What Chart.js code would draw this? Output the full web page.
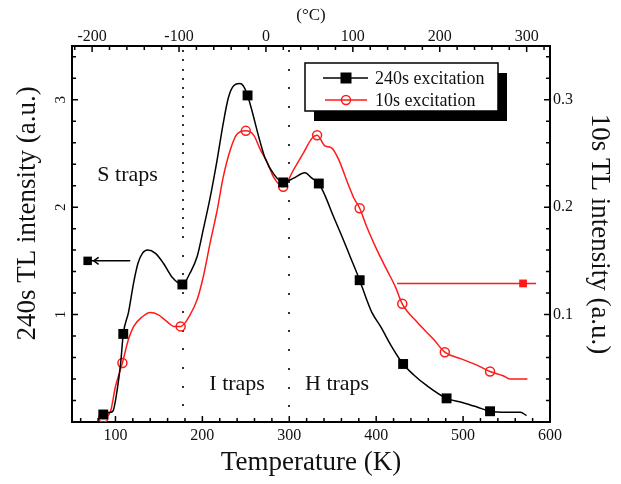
<!DOCTYPE html>
<html>
<head>
<meta charset="utf-8">
<script src="https://cdn.jsdelivr.net/npm/chart.js@4/dist/chart.umd.min.js"></script>
<style>
  html, body { margin: 0; padding: 0; background: #fff; }
  #wrap { width: 621px; height: 484px; }
</style>
</head>
<body>
<div id="wrap"><canvas id="c" width="621" height="484"></canvas></div>
<script>
// Thermoluminescence glow curves, temperature in K
const tempK_240 = [85,94,97,102,106,109,115,121,126,131,137,146,155,165,177,186,194,201,209,217,224,230,236,243,247,252,257,265,272,282,293,305,318,326,334,341,351,361,370,381,389,395,405,418,431,443,458,481,500,516,531,551,566,573];
const tl_240    = [0.07,0.09,0.10,0.30,0.55,0.82,1.02,1.30,1.48,1.57,1.60,1.57,1.48,1.35,1.28,1.39,1.54,1.79,2.09,2.44,2.78,3.02,3.13,3.15,3.13,3.04,2.90,2.65,2.46,2.31,2.23,2.27,2.32,2.27,2.22,2.11,1.91,1.72,1.54,1.32,1.14,1.02,0.89,0.70,0.54,0.44,0.34,0.22,0.18,0.14,0.10,0.09,0.09,0.06];
const markK_240 = [86,109,177,252,293,334,381,431,481,531];
const mark_240  = [0.07,0.82,1.28,3.04,2.23,2.22,1.32,0.54,0.22,0.10];

const tempK_10 = [85,94,100,108,115,121,131,140,149,160,167,175,186,194,201,209,217,224,232,240,250,259,267,275,282,293,305,316,326,332,341,349,357,366,374,381,389,401,412,422,430,447,466,479,497,516,531,546,554,574];
const tl_10    = [0.003,0.009,0.033,0.055,0.077,0.089,0.098,0.102,0.100,0.093,0.089,0.089,0.100,0.114,0.135,0.167,0.197,0.228,0.253,0.268,0.271,0.267,0.253,0.241,0.228,0.219,0.235,0.250,0.264,0.267,0.257,0.255,0.244,0.225,0.209,0.199,0.182,0.160,0.142,0.126,0.110,0.093,0.077,0.065,0.059,0.053,0.047,0.043,0.040,0.040];
const markK_10 = [86,108,175,250,293,332,381,430,479,531];
const mark_10  = [0.004,0.055,0.089,0.271,0.219,0.267,0.199,0.110,0.065,0.047];

// Axis-pointer arrows (which curve belongs to which axis)
const arrowK_240 = [64, 117];
const arrowY_240 = 1.5;
const arrowMarkK_240 = 68;
const arrowK_10 = [424, 584];
const arrowY_10 = 0.129;
const arrowMarkK_10 = 569;

// Trap region boundaries and labels
const boundaryK = [178, 300];
const boundaryDenseAbove = [1.75, 3.5];
const trapLabels = ['S traps', 'I traps', 'H traps'];
const trapLabelK = [114, 240, 355];
const trapLabelY = [2.30, 0.35, 0.35];

const seriesNames = ['240s excitation', '10s excitation'];
const leftTickLabels = [1, 2, 3];
const celsiusTicks = [-200, -100, 0, 100, 200, 300];
const leftTitle = '240s TL intensity (a.u.)';

const K0 = 273.15;
const SERIF = "'Liberation Serif', 'Times New Roman', serif";
const INK = '#111';
const RED = '#ff1a1a';

const pts = (xs, ys) => xs.map((v, i) => ({ x: v, y: ys[i] }));

const decor = {
  id: 'decor',
  beforeDatasetsDraw(chart) {
    const { ctx, chartArea: a, scales: { x, y } } = chart;
    ctx.save();
    ctx.fillStyle = '#333';
    boundaryK.forEach((k, i) => {
      const px = Math.round(x.getPixelForValue(k));
      const denseEnd = y.getPixelForValue(boundaryDenseAbove[i]);
      let py = a.top + 5;
      while (py < a.bottom - 2) {
        ctx.fillRect(px - 1, Math.round(py) - 1, 2, 2);
        py += (py < denseEnd ? 9.3 : 18.7);
      }
    });
    ctx.restore();
  },
  afterDraw(chart) {
    const { ctx, chartArea: a, scales: { x, x2, y, y2 } } = chart;
    ctx.save();
    ctx.strokeStyle = '#000';
    ctx.lineWidth = 1.5;
    ctx.beginPath();
    // inward tick marks
    for (let k = 60; k <= 580; k += 20) {
      const px = x.getPixelForValue(k), len = k % 100 === 0 ? 6 : 4;
      ctx.moveTo(px, a.bottom); ctx.lineTo(px, a.bottom - len);
    }
    for (let c = -220; c <= 320; c += 20) {
      const px = x2.getPixelForValue(c), len = c % 100 === 0 ? 6 : 4;
      ctx.moveTo(px, a.top); ctx.lineTo(px, a.top + len);
    }
    for (let i = 1; i <= 17; i++) {
      const len = i % 5 === 0 ? 6 : 4;
      const py = y.getPixelForValue(i * 0.2);
      ctx.moveTo(a.left, py); ctx.lineTo(a.left + len, py);
      const qy = y2.getPixelForValue(i * 0.02);
      ctx.moveTo(a.right, qy); ctx.lineTo(a.right - len, qy);
    }
    ctx.stroke();

    // rotated labels of the left axis
    ctx.fillStyle = INK;
    ctx.font = '15px ' + SERIF;
    ctx.textAlign = 'center';
    ctx.textBaseline = 'middle';
    leftTickLabels.forEach(v => {
      ctx.save();
      ctx.translate(a.left - 11, y.getPixelForValue(v));
      ctx.rotate(-Math.PI / 2);
      ctx.fillText(String(v), 0, 0);
      ctx.restore();
    });

    // left axis title, set a little above the axis middle
    ctx.save();
    ctx.font = '27px ' + SERIF;
    ctx.translate(28, a.top + (a.bottom - a.top) * 0.445);
    ctx.rotate(-Math.PI / 2);
    ctx.fillText(leftTitle, 0, 0);
    ctx.restore();

    // trap region names
    ctx.font = '22px ' + SERIF;
    trapLabels.forEach((t, i) => {
      ctx.fillText(t, x.getPixelForValue(trapLabelK[i]), y.getPixelForValue(trapLabelY[i]));
    });

    // arrowhead on the left-pointing arrow
    const ax = x.getPixelForValue(arrowMarkK_240) + 6, ay = y.getPixelForValue(arrowY_240);
    ctx.strokeStyle = '#000';
    ctx.lineWidth = 1.5;
    ctx.beginPath();
    ctx.moveTo(ax + 5, ay - 3.5); ctx.lineTo(ax, ay); ctx.lineTo(ax + 5, ay + 3.5);
    ctx.stroke();

    // legend with drop shadow
    const L = 305, T = 63, W = 193, H = 48;
    ctx.fillStyle = '#000';
    ctx.fillRect(L + 9, T + 10, W, H);
    ctx.fillStyle = '#fff';
    ctx.fillRect(L, T, W, H);
    ctx.lineWidth = 1.5;
    ctx.strokeRect(L, T, W, H);
    const rows = [T + 15, T + 37];
    ctx.strokeStyle = '#000';
    ctx.beginPath(); ctx.moveTo(L + 18, rows[0]); ctx.lineTo(L + 63, rows[0]); ctx.stroke();
    ctx.fillStyle = '#000';
    ctx.fillRect(L + 41 - 5.5, rows[0] - 5.5, 11, 11);
    ctx.strokeStyle = RED;
    ctx.beginPath(); ctx.moveTo(L + 20, rows[1]); ctx.lineTo(L + 62, rows[1]); ctx.stroke();
    ctx.beginPath(); ctx.arc(L + 41, rows[1], 4.5, 0, Math.PI * 2); ctx.stroke();
    ctx.fillStyle = INK;
    ctx.font = '18px ' + SERIF;
    ctx.textAlign = 'left';
    ctx.fillText(seriesNames[0], L + 70, rows[0] + 1);
    ctx.fillText(seriesNames[1], L + 70, rows[1] + 1);
    ctx.restore();
  }
};

const tickFont = { family: SERIF, size: 16 };
const titleFont = { family: SERIF, size: 27, lineHeight: 1.2 };

new Chart(document.getElementById('c'), {
  type: 'line',
  data: {
    datasets: [
      { data: pts(tempK_240, tl_240), yAxisID: 'y', borderColor: '#000', borderWidth: 1.5,
        pointRadius: 0, cubicInterpolationMode: 'monotone', fill: false },
      { data: pts(markK_240, mark_240), yAxisID: 'y', showLine: false, pointStyle: 'rect',
        pointRadius: 7, backgroundColor: '#000', borderColor: '#000', borderWidth: 0 },
      { data: pts(tempK_10, tl_10), yAxisID: 'y2', borderColor: RED, borderWidth: 1.5,
        pointRadius: 0, cubicInterpolationMode: 'monotone', fill: false },
      { data: pts(markK_10, mark_10), yAxisID: 'y2', showLine: false, pointStyle: 'circle',
        pointRadius: 4.5, backgroundColor: 'rgba(255,255,255,0)', borderColor: RED, borderWidth: 1.5 },
      { data: pts(arrowK_240, [arrowY_240, arrowY_240]), yAxisID: 'y', borderColor: '#000',
        borderWidth: 1.5, pointRadius: 0 },
      { data: [{ x: arrowMarkK_240, y: arrowY_240 }], yAxisID: 'y', showLine: false, pointStyle: 'rect',
        pointRadius: 6, backgroundColor: '#000', borderWidth: 0 },
      { data: pts(arrowK_10, [arrowY_10, arrowY_10]), yAxisID: 'y2', borderColor: RED,
        borderWidth: 1.5, pointRadius: 0 },
      { data: [{ x: arrowMarkK_10, y: arrowY_10 }], yAxisID: 'y2', showLine: false, pointStyle: 'rect',
        pointRadius: 5.5, backgroundColor: RED, borderWidth: 0 }
    ]
  },
  options: {
    responsive: false,
    devicePixelRatio: 1,
    animation: false,
    events: [],
    layout: { padding: 0 },
    plugins: { legend: { display: false }, tooltip: { enabled: false } },
    scales: {
      x: {
        type: 'linear', position: 'bottom', min: 50, max: 600,
        grid: { display: false, drawTicks: false },
        border: { display: true, color: '#000', width: 2 },
        ticks: { stepSize: 100, autoSkip: false, maxRotation: 0, padding: 4, color: INK, font: tickFont,
                 callback: v => (v % 100 === 0) ? String(v) : '' },
        title: { display: true, text: 'Temperature (K)', color: INK, font: titleFont, padding: { top: 0, bottom: 5 } },
        afterFit: s => { s.height = 62; }
      },
      x2: {
        type: 'linear', position: 'top', min: 50 - K0, max: 600 - K0,
        grid: { display: false, drawTicks: false },
        border: { display: true, color: '#000', width: 2 },
        afterBuildTicks: s => { s.ticks = celsiusTicks.map(v => ({ value: v })); },
        ticks: { autoSkip: false, maxRotation: 0, padding: 0, color: INK, font: tickFont,
                 callback: v => String(v) },
        title: { display: true, text: '(°C)', color: INK, font: { family: SERIF, size: 17, lineHeight: 1.2 },
                 padding: { top: 5, bottom: 0 } },
        afterFit: s => { s.height = 46; }
      },
      y: {
        type: 'linear', position: 'left', min: 0, max: 3.5,
        grid: { display: false, drawTicks: false },
        border: { display: true, color: '#000', width: 2 },
        ticks: { display: false, stepSize: 1 },
        title: { display: false },
        afterFit: s => { s.width = 72; }
      },
      y2: {
        type: 'linear', position: 'right', min: 0, max: 0.35,
        grid: { display: false, drawTicks: false },
        border: { display: true, color: '#000', width: 2 },
        ticks: { stepSize: 0.1, autoSkip: false, padding: 3, color: INK, font: tickFont,
                 callback: v => { const r = Math.round(v * 10) / 10; return (Math.abs(v - r) < 1e-9 && r > 0) ? r.toFixed(1) : ''; } },
        title: { display: true, text: '10s TL intensity (a.u.)', color: INK, font: titleFont, padding: { top: 6, bottom: 0 } },
        afterFit: s => { s.width = 71; }
      }
    }
  },
  plugins: [decor]
});
</script>
</body>
</html>
